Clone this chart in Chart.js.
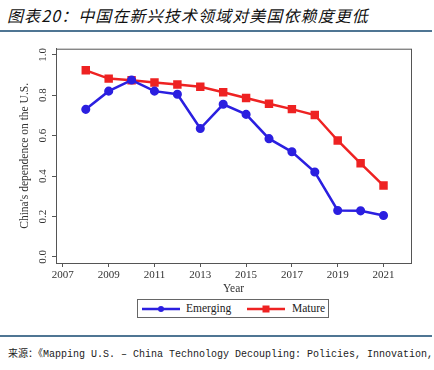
<!DOCTYPE html>
<html>
<head>
<meta charset="utf-8">
<script src="https://cdn.jsdelivr.net/npm/chart.js@4"></script>
<style>
  html, body { margin: 0; padding: 0; background: #fff; }
  #page { position: relative; width: 434px; height: 370px; overflow: hidden; }
  #title { position: absolute; left: 7px; top: 3px; font-family: "Noto Sans CJK SC", sans-serif;
           font-style: italic; font-size: 16px; letter-spacing: 1.1px; color: #111; white-space: nowrap; }
  .rule { position: absolute; left: 0; width: 432px; height: 2px; background: #4f7593; }
  #chartBox { position: absolute; left: 0; top: 42px; width: 434px; height: 256px; }
  #legend { position: absolute; left: 137px; top: 299px; width: 192px; height: 19px; border: 1px solid #666;
            box-sizing: border-box; font-family: "Liberation Serif", serif; font-size: 11.5px; color: #222; }
  #legend span { position: absolute; top: 2px; }
  #legend svg { position: absolute; top: 4px; }
  #source { position: absolute; left: 8px; top: 345px; font-family: "Liberation Mono", "Noto Sans CJK SC", monospace;
            font-size: 10px; color: #222; white-space: nowrap; }
</style>
</head>
<body>
<div id="page">
  <div id="title">图表20：中国在新兴技术领域对美国依赖度更低</div>
  <div class="rule" style="top:30px"></div>
  <div id="chartBox"><canvas id="depChart"></canvas></div>
  <div id="legend">
    <svg style="left:4px" width="40" height="10"><line x1="0" y1="5" x2="38" y2="5" stroke="#2b1fe0" stroke-width="2.5"/><circle cx="19" cy="5" r="3" fill="#2b1fe0"/></svg>
    <span style="left:48px">Emerging</span>
    <svg style="left:109px" width="40" height="10"><line x1="0" y1="5" x2="38" y2="5" stroke="#ee2222" stroke-width="2.5"/><rect x="15.5" y="1.5" width="7" height="7" fill="#ee2222"/></svg>
    <span style="left:154px">Mature</span>
  </div>
  <div class="rule" style="top:335px"></div>
  <div id="source">来源：《Mapping U.S. – China Technology Decoupling: Policies, Innovation,</div>
</div>
<script>
const years = [2008, 2009, 2010, 2011, 2012, 2013, 2014, 2015, 2016, 2017, 2018, 2019, 2020, 2021];
const emerging = [0.73, 0.82, 0.875, 0.82, 0.805, 0.635, 0.755, 0.705, 0.585, 0.52, 0.42, 0.23, 0.228, 0.205];
const mature = [0.923, 0.882, 0.874, 0.863, 0.853, 0.842, 0.815, 0.786, 0.758, 0.731, 0.702, 0.576, 0.463, 0.353];
const xTicks = [2007, 2009, 2011, 2013, 2015, 2017, 2019, 2021];
const yTicks = [0.0, 0.2, 0.4, 0.6, 0.8, 1.0];

const serif = "'Liberation Serif', 'DejaVu Serif', serif";

// draws the box round the plot and the vertical y tick labels
const frameAndYLabels = {
    id: "frameAndYLabels",
    afterDraw(chart) {
        const ctx = chart.ctx;
        const a = chart.chartArea;
        ctx.save();
        ctx.strokeStyle = "#555";
        ctx.lineWidth = 1;
        ctx.strokeRect(a.left + 0.5, a.top + 0.5, a.right - a.left, a.bottom - a.top);
        const y = chart.scales.y;
        ctx.fillStyle = "#333";
        ctx.font = "11px " + serif;
        ctx.textAlign = "center";
        ctx.textBaseline = "middle";
        yTicks.forEach(v => {
            const py = y.getPixelForValue(v);
            ctx.save();
            ctx.translate(43, py);
            ctx.rotate(-Math.PI / 2);
            ctx.fillText(v.toFixed(1), 0, 0);
            ctx.restore();
        });
        ctx.restore();
    }
};

const ctx = document.getElementById("depChart").getContext("2d");
new Chart(ctx, {
    type: "line",
    data: {
        datasets: [
            {
                label: "Emerging",
                data: years.map((yr, i) => ({ x: yr, y: emerging[i] })),
                borderColor: "#2b1fe0",
                backgroundColor: "#2b1fe0",
                borderWidth: 2.5,
                pointRadius: 3.3,
                pointStyle: "circle",
                tension: 0,
            },
            {
                label: "Mature",
                data: years.map((yr, i) => ({ x: yr, y: mature[i] })),
                borderColor: "#ee2222",
                backgroundColor: "#ee2222",
                borderWidth: 2.5,
                pointRadius: 4.2,
                pointStyle: "rect",
                tension: 0,
            },
        ],
    },
    options: {
        responsive: true,
        maintainAspectRatio: false,
        animation: false,
        layout: { padding: { top: 2, right: 23, left: 0, bottom: 0 } },
        plugins: { legend: { display: false }, tooltip: { enabled: false } },
        scales: {
            x: {
                type: "linear",
                min: 2006.7,
                max: 2022.2,
                afterBuildTicks: s => { s.ticks = xTicks.map(v => ({ value: v })); },
                afterFit: s => { s.height = 35; },
                ticks: {
                    callback: v => String(v),
                    font: { family: serif, size: 11 },
                    color: "#333",
                    padding: 2,
                    maxRotation: 0,
                },
                grid: { display: true, drawOnChartArea: false, drawTicks: true, tickLength: 4, color: "#555" },
                border: { display: true, color: "#555" },
                title: { display: true, text: "Year", font: { family: serif, size: 11.5 }, color: "#333", padding: { top: 0, bottom: 2 } },
            },
            y: {
                min: -0.03,
                max: 1.03,
                afterBuildTicks: s => { s.ticks = yTicks.map(v => ({ value: v })); },
                afterFit: s => { s.width = 56; },
                ticks: { display: false },
                grid: { display: true, drawOnChartArea: false, drawTicks: true, tickLength: 4, color: "#555" },
                border: { display: true, color: "#555" },
                title: { display: true, text: "China's dependence on the U.S.", font: { family: serif, size: 11.5 }, color: "#333", padding: { top: 18, bottom: 0 } },
            },
        },
    },
    plugins: [frameAndYLabels],
});
</script>
</body>
</html>
